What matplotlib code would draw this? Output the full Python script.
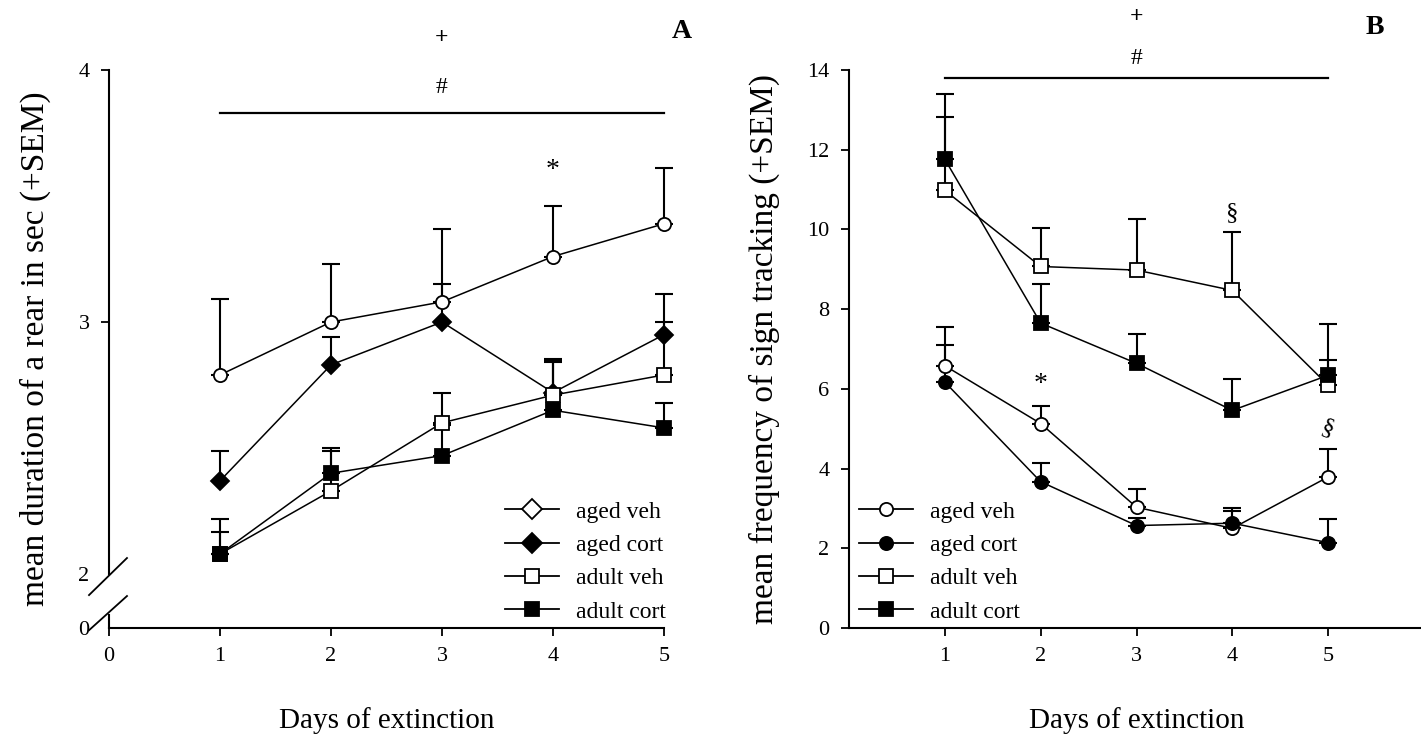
import numpy as np
import matplotlib
matplotlib.use("Agg")
import matplotlib.pyplot as plt
from matplotlib.lines import Line2D

plt.rcParams["font.family"] = "Liberation Serif"

# ---- data -------------------------------------------------------------
days = [1, 2, 3, 4, 5]
group_names = ["aged veh", "aged cort", "adult veh", "adult cort"]

# Panel A: mean duration of a rear (s)
dur_aged_veh = [2.79, 3.00, 3.08, 3.26, 3.39]
dur_aged_veh_sem = [0.30, 0.23, 0.29, 0.20, 0.22]
dur_aged_cort = [2.37, 2.83, 3.00, 2.72, 2.95]
dur_aged_cort_sem = [0.12, 0.11, 0.15, 0.13, 0.16]
dur_adult_veh = [2.08, 2.33, 2.60, 2.71, 2.79]
dur_adult_veh_sem = [0.14, 0.16, 0.12, 0.145, 0.21]
dur_adult_cort = [2.08, 2.40, 2.47, 2.65, 2.58]
dur_adult_cort_sem = [0.085, 0.10, 0.12, 0.19, 0.10]

# Panel B: mean frequency of sign tracking
st_aged_veh = [6.58, 5.13, 3.03, 2.50, 3.79]
st_aged_veh_sem = [0.98, 0.45, 0.45, 0.50, 0.69]
st_aged_cort = [6.17, 3.67, 2.57, 2.63, 2.14]
st_aged_cort_sem = [0.93, 0.48, 0.20, 0.30, 0.59]
st_adult_veh = [10.98, 9.07, 8.98, 8.47, 6.09]
st_adult_veh_sem = [1.85, 0.96, 1.29, 1.46, 0.63]
st_adult_cort = [11.76, 7.65, 6.64, 5.46, 6.34]
st_adult_cort_sem = [1.63, 0.99, 0.73, 0.79, 1.28]

# ---- figure -----------------------------------------------------------
W, H = 1421, 738
fig = plt.figure(figsize=(W / 100, H / 100), dpi=100)
fig.patch.set_facecolor("white")


def px_rect(left, top, right, bottom):
    return [left / W, 1 - bottom / H, (right - left) / W, (bottom - top) / H]


axA = fig.add_axes(px_rect(109, 70, 664, 628))
axB = fig.add_axes(px_rect(849, 70, 1424, 628))

# broken y axis for panel A: 0..2 squeezed into a short stub
K = 0.107


def fwd(y):
    y = np.asarray(y, dtype=float)
    return np.where(y >= 2, y, 2 - (2 - y) * K)


def inv(v):
    v = np.asarray(v, dtype=float)
    return np.where(v >= 2, v, 2 - (2 - v) / K)


axA.set_yscale("function", functions=(fwd, inv))


def draw_series(ax, y, sem, marker, filled, ms, label):
    ax.errorbar(days, y, yerr=[np.zeros(len(sem)), sem], fmt="none",
                ecolor="black", elinewidth=1.5, capsize=6.5, capthick=1.5,
                zorder=2, clip_on=False)
    ax.plot(days, y, color="black", lw=1.1, marker=marker, ms=ms,
            mfc="black" if filled else "white", mec="black", mew=1.3,
            label=label, zorder=3, clip_on=False)


draw_series(axA, dur_aged_veh, dur_aged_veh_sem, "o", False, 9.5, group_names[0])
draw_series(axA, dur_aged_cort, dur_aged_cort_sem, "D", True, 9, group_names[1])
draw_series(axA, dur_adult_veh, dur_adult_veh_sem, "s", False, 10.5, group_names[2])
draw_series(axA, dur_adult_cort, dur_adult_cort_sem, "s", True, 10.5, group_names[3])

draw_series(axB, st_aged_veh, st_aged_veh_sem, "o", False, 9.5, group_names[0])
draw_series(axB, st_aged_cort, st_aged_cort_sem, "o", True, 9.5, group_names[1])
draw_series(axB, st_adult_veh, st_adult_veh_sem, "s", False, 10.5, group_names[2])
draw_series(axB, st_adult_cort, st_adult_cort_sem, "s", True, 10.5, group_names[3])

# ---- axes styling ------------------------------------------------------
for ax in (axA, axB):
    for s in ("top", "right"):
        ax.spines[s].set_visible(False)
    for s in ("left", "bottom"):
        ax.spines[s].set_linewidth(1.5)
    ax.tick_params(direction="out", length=6, width=1.3, labelsize=16, pad=8)
    ax.set_facecolor("white")

axA.set_xlim(0, 5)
axA.set_ylim(0, 4)
axA.set_xticks([0, 1, 2, 3, 4, 5])
axA.set_yticks([0, 2, 3, 4])
axA.set_yticklabels(["0", "2", "3", "4"])
axA.spines["left"].set_bounds(2, 4)
# hide the tick marks at the break, keep their labels
for t in axA.yaxis.get_major_ticks()[:2]:
    t.tick1line.set_visible(False)
axA.yaxis.set_minor_locator(matplotlib.ticker.NullLocator())

# lower stub of the left spine and the break slashes
trA = axA.transAxes
axA.plot([0, 0], [0, 0.024], transform=trA, color="black", lw=1.5, clip_on=False)
axA.plot([-0.036, 0.0324], [0.059, 0.1254], transform=trA, color="black", lw=1.3, clip_on=False)
axA.plot([-0.036, 0.0324], [-0.004, 0.0573], transform=trA, color="black", lw=1.3, clip_on=False)

axB.set_xlim(0, 6)
axB.set_ylim(0, 14)
axB.set_xticks([1, 2, 3, 4, 5])
axB.set_yticks(range(0, 15, 2))

axA.set_xlabel("Days of extinction", fontsize=21, labelpad=29)
axB.set_xlabel("Days of extinction", fontsize=21, labelpad=29)
axA.set_ylabel("mean duration of a rear in sec (+SEM)", fontsize=24, labelpad=20)
axB.set_ylabel("mean frequency of sign tracking (+SEM)", fontsize=24, labelpad=20)

# ---- significance marks --------------------------------------------------
axA.plot([1, 5], [3.83, 3.83], color="black", lw=1.6, clip_on=False)
axA.text(3, 4.13, "+", ha="center", va="center", fontsize=17, fontweight="bold")
axA.text(3, 3.93, "#", ha="center", va="center", fontsize=17)
axA.text(4, 3.60, "*", ha="center", va="center", fontsize=20)

axB.plot([1, 5], [13.8, 13.8], color="black", lw=1.6, clip_on=False)
axB.text(3, 15.33, "+", ha="center", va="center", fontsize=17, fontweight="bold")
axB.text(3, 14.3, "#", ha="center", va="center", fontsize=17)
axB.text(4, 10.4, "§", ha="center", va="center", fontsize=18)
axB.text(2, 6.1, "*", ha="center", va="center", fontsize=20)
axB.text(5, 5.0, "§", ha="center", va="center", fontsize=18, rotation=-20)

fig.text(682 / W, 1 - 32 / H, "A", ha="center", va="center", fontsize=20, fontweight="bold")
fig.text(1375 / W, 1 - 28 / H, "B", ha="center", va="center", fontsize=20, fontweight="bold")

# ---- legends -------------------------------------------------------------
def proxies(markers, sizes):
    out = []
    for name, (m, filled), ms in zip(group_names, markers, sizes):
        out.append(Line2D([0], [0], color="black", lw=1.3, marker=m, ms=ms,
                          mfc="black" if filled else "white", mec="black",
                          mew=1.3, label=name))
    return out


legA = proxies([("D", False), ("D", True), ("s", False), ("s", True)], [10, 10, 10.5, 10.5])
legB = proxies([("o", False), ("o", True), ("s", False), ("s", True)], [9.5, 9.5, 10.5, 10.5])

leg_kw = dict(frameon=False, fontsize=17, handlelength=2.3, handletextpad=0.7,
              labelspacing=0.5, borderpad=0, borderaxespad=0, loc="upper left",
              bbox_transform=fig.transFigure)
axA.legend(handles=legA, bbox_to_anchor=(505 / W, 1 - 501 / H), **leg_kw)
axB.legend(handles=legB, bbox_to_anchor=(859 / W, 1 - 501 / H), **leg_kw)

fig.savefig("out.png", dpi=100, facecolor="white")
